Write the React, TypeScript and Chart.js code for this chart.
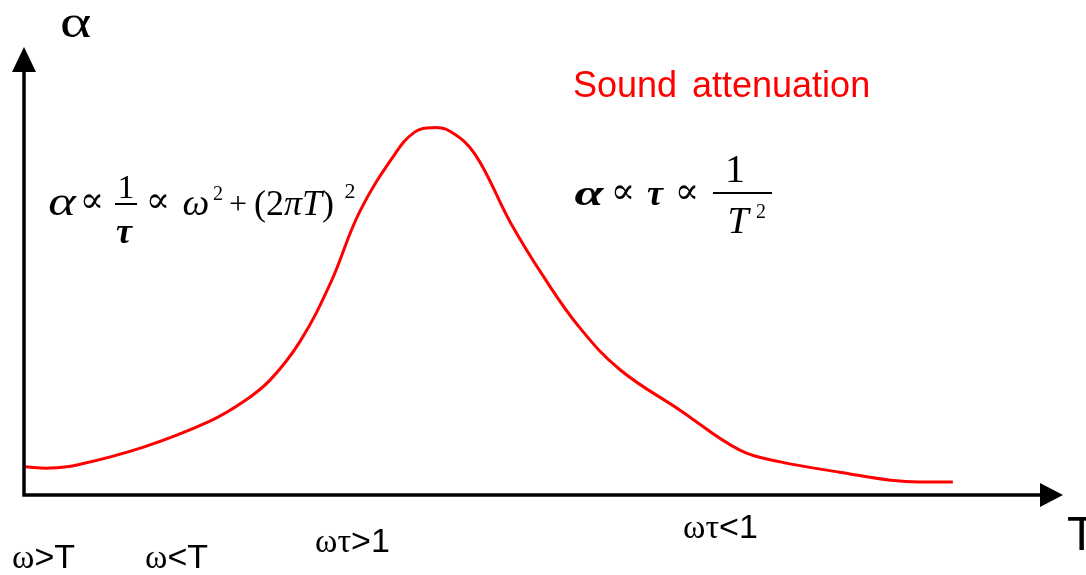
import React, { useEffect, useRef } from "react";
import { Chart, registerables } from "chart.js";

Chart.register(...registerables);

// Temperature (arbitrary units) and sound attenuation α (arbitrary units)
const temperature = [
  0, 2.5, 5.1, 11.5, 17.9, 21.1, 23.7, 26.6, 29.5, 32.3, 35.7, 37.6, 39.3,
  41.0, 43.4, 46.8, 50.1, 53.5, 57.4, 63.1, 68.9, 72.8, 78.5, 84.3, 89.4,
];
const attenuation = [
  6.3, 6.0, 6.7, 10.7, 16.5, 20.8, 25.7, 34.4, 47.3, 63.2, 76.1, 81.0, 82.0,
  81.2, 76.1, 60.9, 48.4, 37.3, 27.9, 19.0, 10.0, 7.4, 5.1, 3.1, 2.9,
];

const seriesWords = ["Sound", "attenuation"];
const yAxisTitle = "α";
const xAxisTitle = "T";
const regimeLabels = [
  { greek: "ω", rest: ">T", x: 12, y: 568 },
  { greek: "ω", rest: "<T", x: 145, y: 568 },
  { greek: "ωτ", rest: ">1", x: 315, y: 552 },
  { greek: "ωτ", rest: "<1", x: 683, y: 538 },
];

const SERIF = '"Liberation Serif", "DejaVu Serif", serif';
const SANS = '"Liberation Sans", Arial, sans-serif';

type Piece = { t: string; font: string };

// Draws a centred (or left-aligned) string, optionally stretched horizontally.
function text(
  ctx: CanvasRenderingContext2D,
  t: string,
  x: number,
  y: number,
  font: string,
  align: CanvasTextAlign = "center",
  color = "#000",
  sx = 1
) {
  ctx.save();
  ctx.font = font;
  ctx.fillStyle = color;
  ctx.textAlign = align;
  ctx.textBaseline = "alphabetic";
  ctx.translate(x, y);
  ctx.scale(sx, 1);
  ctx.fillText(t, 0, 0);
  ctx.restore();
}

function run(ctx: CanvasRenderingContext2D, pieces: Piece[], x: number, y: number) {
  let cx = x;
  ctx.textAlign = "left";
  ctx.textBaseline = "alphabetic";
  ctx.fillStyle = "#000";
  for (const p of pieces) {
    ctx.font = p.font;
    ctx.fillText(p.t, cx, y);
    cx += ctx.measureText(p.t).width;
  }
}

function bar(ctx: CanvasRenderingContext2D, x1: number, x2: number, y: number) {
  ctx.beginPath();
  ctx.moveTo(x1, y);
  ctx.lineTo(x2, y);
  ctx.lineWidth = 2;
  ctx.strokeStyle = "#000";
  ctx.stroke();
}

const decorations = {
  id: "decorations",
  afterDraw(chart: Chart) {
    const ctx = chart.ctx;
    const { left, right, top, bottom } = chart.chartArea;
    ctx.save();

    // axes with arrow heads
    ctx.strokeStyle = "#000";
    ctx.fillStyle = "#000";
    ctx.lineWidth = 3.5;
    ctx.beginPath();
    ctx.moveTo(left, top + 22);
    ctx.lineTo(left, bottom);
    ctx.lineTo(right - 22, bottom);
    ctx.stroke();
    ctx.beginPath();
    ctx.moveTo(left, top);
    ctx.lineTo(left - 12, top + 25);
    ctx.lineTo(left + 12, top + 25);
    ctx.closePath();
    ctx.fill();
    ctx.beginPath();
    ctx.moveTo(right, bottom);
    ctx.lineTo(right - 23, bottom - 12);
    ctx.lineTo(right - 23, bottom + 12);
    ctx.closePath();
    ctx.fill();

    // axis titles
    text(ctx, yAxisTitle, 60, 37, `46px ${SERIF}`, "left", "#000", 1.3);
    text(ctx, xAxisTitle, 1067, 550, `48px ${SANS}`, "left");

    // series label
    text(ctx, seriesWords[0], 573, 97, `36px ${SANS}`, "left", "#ff0000");
    text(ctx, seriesWords[1], 692, 97, `36px ${SANS}`, "left", "#ff0000");

    // low-temperature regime: α ∝ 1/τ ∝ ω² + (2πT)²
    text(ctx, "α", 62, 215, `italic 42px ${SERIF}`, "center", "#000", 1.25);
    text(ctx, "∝", 92, 212, `36px ${SERIF}`);
    text(ctx, "1", 126, 198, `34px ${SERIF}`);
    bar(ctx, 115, 137, 204);
    text(ctx, "τ", 124, 243, `bold italic 36px ${SERIF}`);
    text(ctx, "∝", 158, 212, `36px ${SERIF}`);
    text(ctx, "ω", 196, 215, `italic 38px ${SERIF}`);
    text(ctx, "2", 218, 200, `20px ${SERIF}`);
    text(ctx, "+", 238, 214, `32px ${SERIF}`);
    run(
      ctx,
      [
        { t: "(2", font: `36px ${SERIF}` },
        { t: "πT", font: `italic 36px ${SERIF}` },
        { t: ")", font: `36px ${SERIF}` },
      ],
      254,
      215
    );
    text(ctx, "2", 350, 198, `22px ${SERIF}`);

    // high-temperature regime: α ∝ τ ∝ 1/T²
    text(ctx, "α", 589, 205, `bold italic 36px ${SERIF}`, "center", "#000", 1.45);
    text(ctx, "∝", 623, 203, `36px ${SERIF}`);
    text(ctx, "τ", 655, 205, `bold italic 36px ${SERIF}`);
    text(ctx, "∝", 687, 203, `36px ${SERIF}`);
    text(ctx, "1", 735, 182, `40px ${SERIF}`);
    bar(ctx, 713, 772, 193);
    text(ctx, "T", 738, 233, `italic 38px ${SERIF}`);
    text(ctx, "2", 761, 218, `20px ${SERIF}`);

    // regime labels under the axis
    for (const r of regimeLabels) {
      run(
        ctx,
        [
          { t: r.greek, font: `34px ${SERIF}` },
          { t: r.rest, font: `34px ${SANS}` },
        ],
        r.x,
        r.y
      );
    }

    ctx.restore();
  },
};

export default function App() {
  const ref = useRef<HTMLCanvasElement>(null);

  useEffect(() => {
    if (!ref.current) return;
    const chart = new Chart(ref.current, {
      type: "line",
      data: {
        datasets: [
          {
            label: seriesWords.join(" "),
            data: temperature.map((t, i) => ({ x: t, y: attenuation[i] })),
            borderColor: "#ff0000",
            borderWidth: 3,
            pointRadius: 0,
            tension: 0.4,
            fill: false,
          },
        ],
      },
      options: {
        animation: false,
        responsive: false,
        devicePixelRatio: 1,
        layout: { padding: { left: 24, right: 23, top: 47, bottom: 80 } },
        plugins: {
          legend: { display: false },
          tooltip: { enabled: false },
          title: { display: false },
        },
        scales: {
          x: { type: "linear", min: 0, max: 100, display: false },
          y: { type: "linear", min: 0, max: 100, display: false },
        },
      },
      plugins: [decorations],
    });
    return () => chart.destroy();
  }, []);

  return (
    <div style={{ position: "fixed", left: 0, top: 0, width: 1086, height: 575, background: "#fff" }}>
      <canvas ref={ref} width={1086} height={575} />
    </div>
  );
}
